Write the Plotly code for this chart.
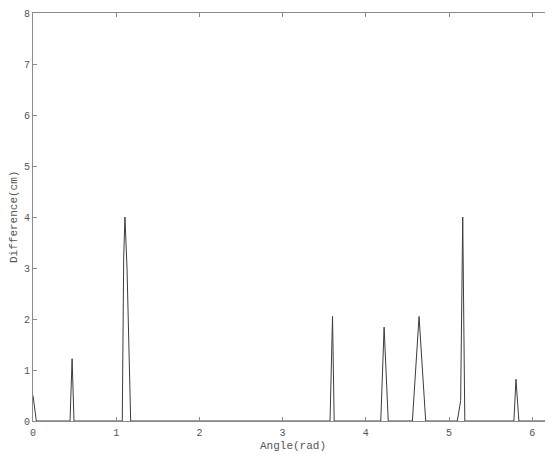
import plotly.graph_objects as go

# Data (key points of the difference curve)
angle = [0.0, 0.04, 0.445, 0.47, 0.493, 1.073, 1.09, 1.105, 1.13, 1.174,
         3.57, 3.60, 3.62, 4.18, 4.22, 4.27, 4.56, 4.64, 4.72,
         5.10, 5.14, 5.165, 5.19, 5.78, 5.805, 5.84, 6.25]
difference = [0.5, 0.0, 0.0, 1.22, 0.0, 0.0, 3.2, 4.0, 3.0, 0.0,
              0.0, 2.05, 0.0, 0.0, 1.84, 0.0, 0.0, 2.05, 0.0,
              0.0, 0.4, 4.0, 0.0, 0.0, 0.82, 0.0, 0.0]

x_ticks = [0, 1, 2, 3, 4, 5, 6]
y_ticks = [0, 1, 2, 3, 4, 5, 6, 7, 8]

FONT = "Liberation Mono, DejaVu Sans Mono, monospace"
AXIS_COLOR = "#8a8a8a"
TEXT_COLOR = "#555555"

fig = go.Figure()
fig.add_trace(go.Scatter(x=angle, y=difference, mode="lines",
                         line=dict(color="#3c3c3c", width=1),
                         hoverinfo="skip", showlegend=False))
fig.add_trace(go.Scatter(x=angle, y=difference, mode="lines", yaxis="y2",
                         line=dict(color="rgba(0,0,0,0)", width=0),
                         hoverinfo="skip", showlegend=False))

# page body has an 8px margin, so the figure is sized to fill the rest
fig.update_layout(
    width=545, height=446,
    margin=dict(l=25, r=0, t=5, b=33, autoexpand=False),
    paper_bgcolor="white", plot_bgcolor="white",
    font=dict(family=FONT, size=10, color=TEXT_COLOR),
    xaxis=dict(range=[0, 6.25], tickvals=x_ticks, ticks="inside", ticklen=4,
               tickcolor=AXIS_COLOR, showline=True, linecolor=AXIS_COLOR,
               linewidth=1, mirror="ticks", showgrid=False, zeroline=False,
               automargin=False, ticklabelstandoff=2),
    yaxis=dict(range=[0, 8], tickvals=y_ticks, ticks="inside", ticklen=4,
               tickcolor=AXIS_COLOR, showline=True, linecolor=AXIS_COLOR,
               linewidth=1, showgrid=False, zeroline=False, automargin=False),
    yaxis2=dict(range=[0, 8], tickvals=y_ticks, ticks="inside", ticklen=4,
                tickcolor=AXIS_COLOR, overlaying="y", side="right",
                showline=False, showticklabels=False, showgrid=False,
                zeroline=False, automargin=False),
    annotations=[
        dict(text="Angle(rad)", xref="paper", yref="paper", x=0.5, y=0,
             yshift=-25, showarrow=False, xanchor="center", yanchor="middle",
             font=dict(family=FONT, size=11, color=TEXT_COLOR)),
        dict(text="Difference(cm)", xref="paper", yref="paper", x=0, y=0.5,
             xshift=-19, showarrow=False, textangle=-90, xanchor="center",
             yanchor="middle",
             font=dict(family=FONT, size=11, color=TEXT_COLOR)),
    ],
)

fig.write_html("out.html")
